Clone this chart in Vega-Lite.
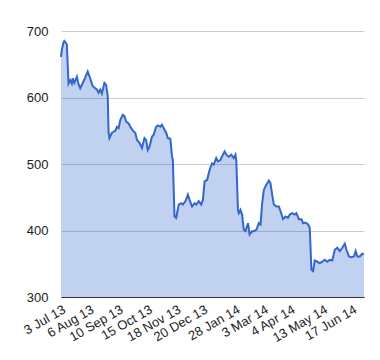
{
  "$schema": "https://vega.github.io/schema/vega-lite/v6.json",
  "width": 303,
  "height": 266,
  "autosize": {"type": "none"},
  "padding": {"left": 61, "top": 31, "right": 16, "bottom": 63},
  "background": "white",
  "config": {
    "view": {"stroke": null},
    "font": "Liberation Sans",
    "axis": {"labelFont": "Liberation Sans", "labelFontSize": 13, "labelColor": "#222", "titleFont": "Liberation Sans"}
  },
  "data": {"values": [
    {"date": "2013-07-03", "price": 661}, {"date": "2013-07-04", "price": 672}, {"date": "2013-07-06", "price": 683},
    {"date": "2013-07-07", "price": 685}, {"date": "2013-07-09", "price": 682}, {"date": "2013-07-10", "price": 680},
    {"date": "2013-07-12", "price": 621}, {"date": "2013-07-14", "price": 626}, {"date": "2013-07-16", "price": 621},
    {"date": "2013-07-17", "price": 629}, {"date": "2013-07-19", "price": 622}, {"date": "2013-07-22", "price": 631},
    {"date": "2013-07-24", "price": 620}, {"date": "2013-07-26", "price": 614}, {"date": "2013-07-31", "price": 627},
    {"date": "2013-08-04", "price": 639}, {"date": "2013-08-07", "price": 629}, {"date": "2013-08-10", "price": 617},
    {"date": "2013-08-13", "price": 614}, {"date": "2013-08-15", "price": 612}, {"date": "2013-08-17", "price": 607},
    {"date": "2013-08-19", "price": 612}, {"date": "2013-08-21", "price": 606}, {"date": "2013-08-24", "price": 622},
    {"date": "2013-08-26", "price": 619}, {"date": "2013-08-28", "price": 602}, {"date": "2013-08-29", "price": 547},
    {"date": "2013-08-30", "price": 539}, {"date": "2013-09-02", "price": 547}, {"date": "2013-09-06", "price": 550},
    {"date": "2013-09-08", "price": 556}, {"date": "2013-09-10", "price": 554}, {"date": "2013-09-12", "price": 566},
    {"date": "2013-09-15", "price": 574}, {"date": "2013-09-17", "price": 572}, {"date": "2013-09-19", "price": 564},
    {"date": "2013-09-22", "price": 561}, {"date": "2013-09-25", "price": 554}, {"date": "2013-09-28", "price": 549},
    {"date": "2013-09-30", "price": 547}, {"date": "2013-10-02", "price": 536}, {"date": "2013-10-05", "price": 532},
    {"date": "2013-10-08", "price": 524}, {"date": "2013-10-11", "price": 539}, {"date": "2013-10-13", "price": 536},
    {"date": "2013-10-15", "price": 521}, {"date": "2013-10-17", "price": 526}, {"date": "2013-10-20", "price": 541},
    {"date": "2013-10-22", "price": 544}, {"date": "2013-10-25", "price": 556}, {"date": "2013-10-27", "price": 558},
    {"date": "2013-10-30", "price": 556}, {"date": "2013-11-01", "price": 559}, {"date": "2013-11-03", "price": 554},
    {"date": "2013-11-06", "price": 547}, {"date": "2013-11-08", "price": 539}, {"date": "2013-11-11", "price": 538},
    {"date": "2013-11-13", "price": 511}, {"date": "2013-11-14", "price": 506}, {"date": "2013-11-16", "price": 421},
    {"date": "2013-11-18", "price": 419}, {"date": "2013-11-21", "price": 439}, {"date": "2013-11-24", "price": 441},
    {"date": "2013-11-26", "price": 439}, {"date": "2013-11-29", "price": 444}, {"date": "2013-12-02", "price": 454},
    {"date": "2013-12-04", "price": 446}, {"date": "2013-12-07", "price": 436}, {"date": "2013-12-10", "price": 441},
    {"date": "2013-12-12", "price": 439}, {"date": "2013-12-15", "price": 444}, {"date": "2013-12-18", "price": 439},
    {"date": "2013-12-20", "price": 446}, {"date": "2013-12-22", "price": 474}, {"date": "2013-12-25", "price": 476},
    {"date": "2013-12-28", "price": 491}, {"date": "2013-12-31", "price": 501}, {"date": "2014-01-02", "price": 499},
    {"date": "2014-01-05", "price": 509}, {"date": "2014-01-07", "price": 504}, {"date": "2014-01-10", "price": 506},
    {"date": "2014-01-13", "price": 514}, {"date": "2014-01-15", "price": 519}, {"date": "2014-01-17", "price": 514},
    {"date": "2014-01-20", "price": 511}, {"date": "2014-01-23", "price": 514}, {"date": "2014-01-26", "price": 509},
    {"date": "2014-01-28", "price": 514}, {"date": "2014-01-29", "price": 506}, {"date": "2014-01-31", "price": 431},
    {"date": "2014-02-01", "price": 426}, {"date": "2014-02-03", "price": 431}, {"date": "2014-02-05", "price": 424},
    {"date": "2014-02-07", "price": 401}, {"date": "2014-02-09", "price": 399}, {"date": "2014-02-12", "price": 411},
    {"date": "2014-02-14", "price": 394}, {"date": "2014-02-17", "price": 399}, {"date": "2014-02-19", "price": 399},
    {"date": "2014-02-22", "price": 401}, {"date": "2014-02-25", "price": 411}, {"date": "2014-02-27", "price": 409},
    {"date": "2014-03-01", "price": 441}, {"date": "2014-03-03", "price": 461}, {"date": "2014-03-06", "price": 469},
    {"date": "2014-03-09", "price": 475}, {"date": "2014-03-11", "price": 471}, {"date": "2014-03-13", "price": 454},
    {"date": "2014-03-15", "price": 439}, {"date": "2014-03-18", "price": 436}, {"date": "2014-03-21", "price": 436},
    {"date": "2014-03-23", "price": 429}, {"date": "2014-03-26", "price": 417}, {"date": "2014-03-29", "price": 421},
    {"date": "2014-04-01", "price": 419}, {"date": "2014-04-03", "price": 424}, {"date": "2014-04-06", "price": 426},
    {"date": "2014-04-09", "price": 424}, {"date": "2014-04-11", "price": 426}, {"date": "2014-04-14", "price": 417},
    {"date": "2014-04-17", "price": 417}, {"date": "2014-04-19", "price": 411}, {"date": "2014-04-22", "price": 412},
    {"date": "2014-04-25", "price": 409}, {"date": "2014-04-27", "price": 404}, {"date": "2014-04-29", "price": 341},
    {"date": "2014-05-01", "price": 339}, {"date": "2014-05-03", "price": 355}, {"date": "2014-05-06", "price": 353},
    {"date": "2014-05-09", "price": 351}, {"date": "2014-05-12", "price": 353}, {"date": "2014-05-15", "price": 356},
    {"date": "2014-05-18", "price": 353}, {"date": "2014-05-21", "price": 356}, {"date": "2014-05-24", "price": 355},
    {"date": "2014-05-27", "price": 371}, {"date": "2014-05-30", "price": 374}, {"date": "2014-06-02", "price": 369},
    {"date": "2014-06-05", "price": 374}, {"date": "2014-06-08", "price": 380}, {"date": "2014-06-10", "price": 371},
    {"date": "2014-06-13", "price": 361}, {"date": "2014-06-16", "price": 360}, {"date": "2014-06-19", "price": 361},
    {"date": "2014-06-21", "price": 369}, {"date": "2014-06-23", "price": 361}, {"date": "2014-06-26", "price": 361},
    {"date": "2014-06-29", "price": 365}, {"date": "2014-07-01", "price": 364}
  ]},
  "encoding": {
    "x": {
      "field": "date", "type": "temporal", "title": null,
      "scale": {"domain": [{"year": 2013, "month": 7, "date": 3}, {"year": 2014, "month": 7, "date": 1}]},
      "axis": {
        "values": [
          {"year": 2013, "month": 7, "date": 3}, {"year": 2013, "month": 8, "date": 6},
          {"year": 2013, "month": 9, "date": 10}, {"year": 2013, "month": 10, "date": 15},
          {"year": 2013, "month": 11, "date": 18}, {"year": 2013, "month": 12, "date": 20},
          {"year": 2014, "month": 1, "date": 28}, {"year": 2014, "month": 3, "date": 3},
          {"year": 2014, "month": 4, "date": 4}, {"year": 2014, "month": 5, "date": 13},
          {"year": 2014, "month": 6, "date": 17}
        ],
        "format": "%-d %b %y",
        "labelAngle": -30,
        "labelAlign": "right",
        "labelBaseline": "top",
        "labelPadding": 6,
        "ticks": false,
        "grid": false,
        "domain": true,
        "domainColor": "#333",
        "domainWidth": 1,
        "labelOverlap": false,
        "labelFlush": false,
        "zindex": 1
      }
    },
    "y": {
      "field": "price", "type": "quantitative", "title": null,
      "scale": {"domain": [300, 700], "zero": false, "nice": false},
      "axis": {
        "values": [300, 400, 500, 600, 700],
        "domain": false, "ticks": false,
        "grid": true, "gridColor": "#ccc", "gridWidth": 1,
        "labelPadding": 13
      }
    }
  },
  "layer": [
    {"mark": {"type": "area", "color": "#3366cc", "opacity": 0.3}, "encoding": {"y2": {"datum": 300}}},
    {"mark": {"type": "line", "color": "#3366cc", "strokeWidth": 2}}
  ]
}
